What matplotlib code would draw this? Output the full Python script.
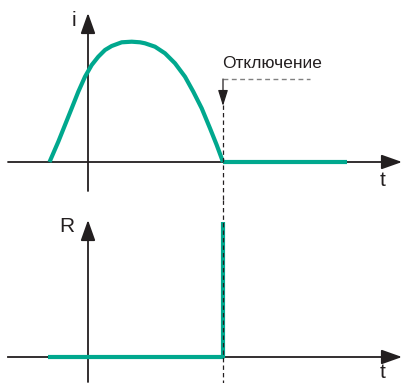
import matplotlib.pyplot as plt
from matplotlib import font_manager

# time in arbitrary units, switching moment at t_off
t_off = 13.5
t_end = 25.9

# current before switching
t_curve = [-3.85, -2.97, -2.3, -1.63, -0.97, -0.3, 0.37, 1.03, 1.7, 2.37, 3.37, 4.37,
           5.2, 5.7, 6.7, 7.7, 8.7, 9.7, 10.53, 11.37, 12.2, 12.87, 13.5]
i_curve = [0.0, 2.03, 3.7, 5.37, 7.03, 8.53, 9.7, 10.53, 11.2, 11.6, 11.97, 12.03,
           11.97, 11.87, 11.53, 10.87, 9.87, 8.53, 7.03, 5.37, 3.37, 1.7, 0.0]

# resistance of the contact gap
t_R = [-4.0, t_off, t_off]
R_vals = [0.0, 0.0, 13.5]

label_off = "Отключение"

green = "#00a88e"
black = "#231f20"

names = {f.name for f in font_manager.fontManager.ttflist}
fam = "Liberation Sans Narrow" if "Liberation Sans Narrow" in names else "Liberation Sans"
plt.rcParams["font.family"] = [fam, "DejaVu Sans"]

fig = plt.figure(figsize=(4.03, 3.83), dpi=100)
ax1 = fig.add_axes([0, 183 / 383, 1, 200 / 383])
ax2 = fig.add_axes([0, 0, 1, 183 / 383])

for ax in (ax1, ax2):
    ax.set_xlim(-8.8, 31.5)
    ax.axis("off")
ax1.set_ylim(-3.8, 16.2)
ax2.set_ylim(-2.6, 15.7)

arrow = dict(arrowstyle="-|>,head_length=0.9,head_width=0.32", color=black, lw=1.3,
             shrinkA=0, shrinkB=0, mutation_scale=14)

# top panel: current
ax1.annotate("", xy=(31.4, 0), xytext=(-8.0, 0), arrowprops=arrow)
ax1.annotate("", xy=(0, 14.9), xytext=(0, -2.9), arrowprops=arrow)
ax1.plot(t_curve, i_curve, color=green, lw=3.0, solid_capstyle="butt",
         solid_joinstyle="round", zorder=3)
ax1.plot([t_off, t_end], [0, 0], color=green, lw=3.0, solid_capstyle="butt", zorder=3)
ax1.text(-1.4, 14.1, "i", fontsize=15, ha="center", va="center", color=black)
ax1.text(29.5, -1.8, "t", fontsize=15, ha="center", va="center", color=black)

# switching marker
ax1.plot([t_off, 22.2], [8.3, 8.3], color="#808080", lw=1.0, ls=(0, (3.5, 2.5)))
ax1.plot([t_off, t_off], [5.7, -3.8], color=black, lw=0.9, ls=(0, (3.5, 2.5)), zorder=4)
ax1.annotate("", xy=(t_off, 5.6), xytext=(t_off, 8.3),
             arrowprops=dict(arrowstyle="-|>,head_length=0.8,head_width=0.25", color=black,
                             lw=0.9, shrinkA=0, shrinkB=0, mutation_scale=12))
ax1.text(18.4, 9.8, label_off, fontsize=12.5, ha="center", va="center", color=black)

# bottom panel: resistance
ax2.plot([-8.0, -4.0], [0, 0], color=black, lw=1.3)
ax2.annotate("", xy=(31.4, 0), xytext=(-4.0, 0), arrowprops=arrow)
ax2.annotate("", xy=(0, 13.7), xytext=(0, -2.5), arrowprops=arrow)
ax2.plot(t_R, R_vals, color=green, lw=3.0, solid_capstyle="butt", zorder=3)
ax2.plot([t_off, t_off], [15.7, -2.6], color=black, lw=0.9, ls=(0, (3.5, 2.5)), zorder=4)
ax2.text(-2.1, 13.1, "R", fontsize=15, ha="center", va="center", color=black)
ax2.text(29.5, -1.6, "t", fontsize=15, ha="center", va="center", color=black)

fig.savefig("out.png", dpi=100)
